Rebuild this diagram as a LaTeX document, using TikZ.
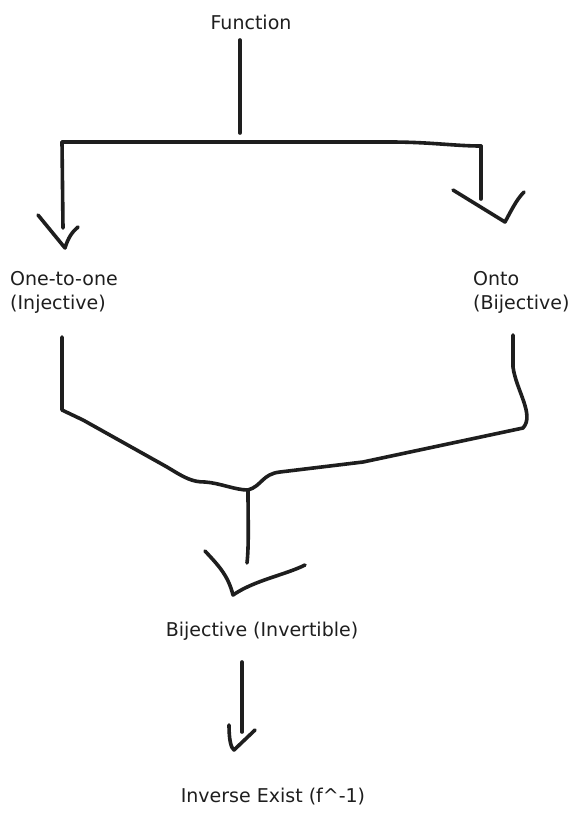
\documentclass[tikz,border=0pt]{standalone}
\usepackage{fontspec}
\setmainfont{DejaVu Sans}
\begin{document}
\begin{tikzpicture}[x=1pt,y=-1pt,
  ink/.style={draw=inkc,line width=3.6pt,line cap=round,line join=round},
  label/.style={inner sep=0pt,text=inkc,font=\fontsize{19}{24}\selectfont},
]
\definecolor{inkc}{HTML}{1E1E1E}
\useasboundingbox[fill=white] (0,0) rectangle (581,820);

% labels
\node[label] (fn) at (251,22) {Function};
\node[label,align=left,anchor=west] (inj) at (10,292) {One-to-one\\(Injective)};
\node[label,align=left,anchor=west] (onto) at (473,292) {Onto\\(Bijective)};
\node[label] (bij) at (262,631) {Bijective (Invertible)};
\node[label] (inv) at (273,797) {Inverse Exist (f\textasciicircum{}-1)};

% anchor points of the hand-drawn connectors
\coordinate (split) at (240,133);
\coordinate (barL) at (62,142);
\coordinate (barR) at (481,146);
\coordinate (tipL) at (63,228);
\coordinate (tipR) at (481,199);
\coordinate (injOut) at (62,337);
\coordinate (ontoOut) at (513,335);
\coordinate (merge) at (248,490);
\coordinate (tipB) at (247,563);
\coordinate (bijOut) at (242,662);
\coordinate (tipI) at (242,732);

% Function splits into the two properties
\draw[ink] (240,40) -- (split);
\draw[ink] (barL) -- (390,142) .. controls (430,142) and (455,146) .. (barR);
\draw[ink] (barL) -- (tipL);
\draw[ink] (38,215) -- (65,248) .. controls (68,238) and (72,232) .. (78,227);
\draw[ink] (barR) -- (tipR);
\draw[ink] (453,190) -- (505,222) .. controls (510,213) and (516,200) .. (524,192);

% both properties merge into bijective
\draw[ink] (injOut) -- (62,410) -- (83,420) -- (167,467)
  .. controls (185,478) and (192,482) .. (205,482)
  .. controls (220,483) and (235,490) .. (merge);
\draw[ink] (ontoOut) -- (513,367) .. controls (516,390) and (535,415) .. (523,428)
  -- (363,462) -- (280,472)
  .. controls (262,474) and (262,486) .. (merge);
\draw[ink] (merge) .. controls (248,520) and (249,545) .. (tipB);
\draw[ink] (205,551) .. controls (218,565) and (228,575) .. (233,595)
  .. controls (255,580) and (285,575) .. (305,565);

% bijective gives the inverse
\draw[ink] (bijOut) -- (tipI);
\draw[ink] (229,725) .. controls (229,740) and (231,748) .. (234,750) -- (255,730);
\end{tikzpicture}
\end{document}
